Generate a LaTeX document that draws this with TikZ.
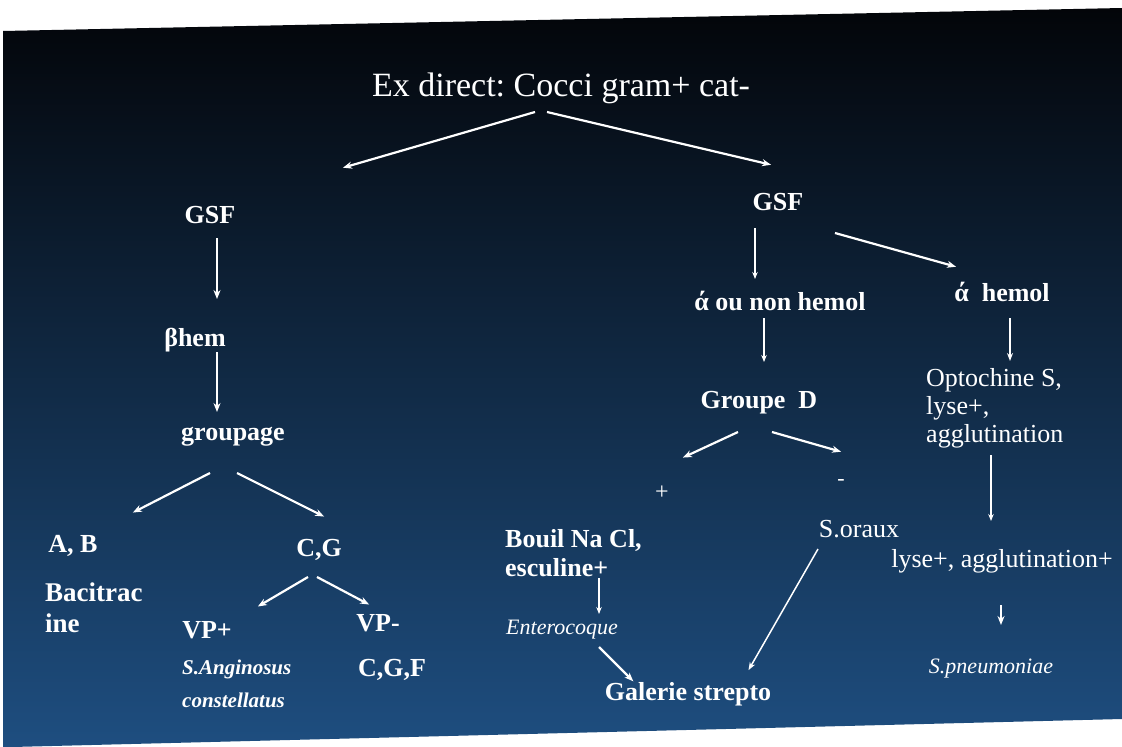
\documentclass[tikz,border=0pt]{standalone}
\usepackage{fontspec}
\setmainfont{Liberation Serif}
\usetikzlibrary{arrows.meta}
\frenchspacing
\definecolor{slidetop}{RGB}{3,5,9}
\definecolor{slidemid}{RGB}{20,50,88}
\definecolor{slidebot}{RGB}{30,78,128}
\tikzstyle{lbl} = [text=white, inner sep=0pt, anchor=base, font=\fontsize{26}{30}\selectfont\bfseries]
\tikzstyle{reg} = [lbl, font=\fontsize{26}{28}\selectfont]
\tikzstyle{spec} = [lbl, font=\fontsize{22}{24}\selectfont\itshape]
\tikzstyle{thickarrow} = [line width=2.2pt]
\tikzstyle{midarrow} = [line width=1.5pt, >={Stealth[length=8pt,width=6pt]}]
\tikzstyle{thinarrow} = [line width=1.1pt, >={Stealth[length=7pt,width=5.5pt]}]

\begin{document}
\begin{tikzpicture}[x=1pt,y=-1pt,->,>={Stealth[length=9pt,width=7pt]},shorten >=1pt,white]
  \useasboundingbox (0,0) rectangle (1122,747);
  \fill[white] (0,0) rectangle (1122,747);
  \shade[top color=slidetop, middle color=slidemid, bottom color=slidebot]
    (3,31) -- (1122,8) -- (1122,719) -- (12,747) -- (3,747) -- cycle;

  % left branch
  \node[reg, font=\fontsize{34}{40}\selectfont] (title) at (561,96) {Ex direct: Cocci gram+ cat-};
  \node[lbl] (gsfL) at (210,223) {GSF};
  \node[lbl] (bhem) at (195,346) {βhem};
  \node[lbl] (grp) at (233,440) {groupage};
  \node[lbl] (ab) at (73,552) {A, B};
  \node[lbl, anchor=north west, align=left, font=\fontsize{27}{31}\selectfont\bfseries] (bac) at (45,583) {Bacitrac\\ine};
  \node[lbl] (cg) at (319,556) {C,G};
  \node[lbl] (vpp) at (207,638) {VP+};
  \node[spec, anchor=north west, align=left, font=\fontsize{21}{33}\selectfont\bfseries\itshape] (sang) at (182,660) {S.Anginosus\\constellatus};
  \node[lbl] (vpm) at (378,631) {VP-};
  \node[lbl] (cgf) at (392,676) {C,G,F};

  % right branch
  \node[lbl] (gsfR) at (778,210) {GSF};
  \node[lbl] (aoun) at (780,310) {ά ou non hemol};
  \node[lbl] (ahem) at (1002,301) {ά~~hemol};
  \node[lbl] (grpD) at (759,408) {Groupe~~D};
  \node[reg, anchor=north west, align=left] (opto) at (926,368) {Optochine S,\\lyse+,\\agglutination};
  \node[reg, font=\fontsize{24}{26}\selectfont] (plus) at (662,499) {+};
  \node[reg, font=\fontsize{22}{24}\selectfont] (minus) at (841,485) {-};
  \node[lbl, anchor=north west, align=left, font=\fontsize{26}{29}\selectfont\bfseries] (bouil) at (505,529) {Bouil Na Cl,\\esculine+};
  \node[spec] (entero) at (562,634) {Enterocoque};
  \node[reg] (soraux) at (859,537) {S.oraux};
  \node[lbl] (galerie) at (688,700) {Galerie strepto};
  \node[reg] (lyse) at (1002,567) {lyse+, agglutination+};
  \node[spec] (spneu) at (991,673) {S.pneumoniae};

  \path ([shift={(-26,16)}]title.base) edge[thickarrow] ([shift={(132,-55)}]gsfL.base);
  \path ([shift={(-14,16)}]title.base) edge[thickarrow] ([shift={(-6,-45)}]gsfR.base);
  \path ([shift={(7,15)}]gsfL.base) edge[thickarrow] ([shift={(22,-46)}]bhem.base);
  \path ([shift={(22,6)}]bhem.base) edge[thickarrow] ([shift={(-16,-27)}]grp.base);
  \path ([shift={(-23,33)}]grp.base) edge[thickarrow] ([shift={(59,-39)}]ab.base);
  \path ([shift={(4,33)}]grp.base) edge[thickarrow] ([shift={(6,-39)}]cg.base);
  \path ([shift={(-11,21)}]cg.base) edge[thickarrow] ([shift={(50,-31)}]vpp.base);
  \path ([shift={(-2,21)}]cg.base) edge[thickarrow] ([shift={(-8,-26)}]vpm.base);
  \path ([shift={(-23,18)}]gsfR.base) edge[thinarrow] ([shift={(-25,-30)}]aoun.base);
  \path ([shift={(57,23)}]gsfR.base) edge[thickarrow] ([shift={(-45,-34)}]ahem.base);
  \path ([shift={(-16,8)}]aoun.base) edge[thinarrow] ([shift={(5,-45)}]grpD.base);
  \path ([shift={(8,17)}]ahem.base) edge[midarrow] ([shift={(84,-6)}]opto.north west);
  \path ([shift={(-21,24)}]grpD.base) edge[thickarrow] ([shift={(20,-41)}]plus.base);
  \path ([shift={(13,24)}]grpD.base) edge[thickarrow] ([shift={(1,-33)}]minus.base);
  \path ([shift={(65,87)}]opto.north west) edge[thinarrow] ([shift={(-11,-45)}]lyse.base);
  \path ([shift={(-1,38)}]lyse.base) edge[thickarrow] ([shift={(10,-47)}]spneu.base);
  \path ([shift={(94,49)}]bouil.north west) edge[thinarrow] ([shift={(37,-19)}]entero.base);
  \path ([shift={(37,13)}]entero.base) edge[thickarrow] ([shift={(-54,-18)}]galerie.base);
  \path ([shift={(-41,12)}]soraux.base) edge[midarrow] ([shift={(60,-29)}]galerie.base);
\end{tikzpicture}
\end{document}
